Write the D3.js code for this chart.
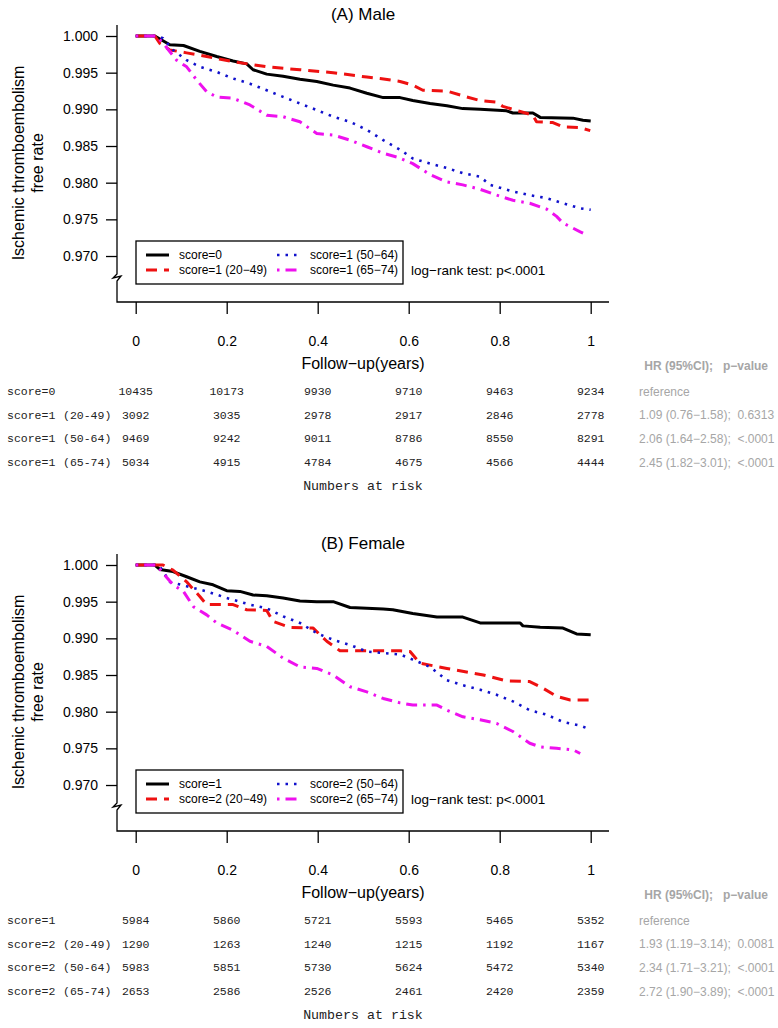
<!DOCTYPE html>
<html>
<head>
<meta charset="utf-8">
<script src="https://cdn.jsdelivr.net/npm/d3@7/dist/d3.min.js"></script>
<style>
  html, body { margin: 0; padding: 0; background: #fff; }
  svg { display: block; }
</style>
</head>
<body>
<svg id="chart" width="778" height="1028"></svg>
<script>
// ---------------- DATA ----------------
const xTicks = [0, 0.2, 0.4, 0.6, 0.8, 1];
const yTicks = [1.000, 0.995, 0.990, 0.985, 0.980, 0.975, 0.970];
const riskTimes = [0, 0.2, 0.4, 0.6, 0.8, 1];
const hrHeader = "HR (95%CI);\u00a0\u00a0\u00a0p\u2212value";

// Panel A (Male)
const maleTitle = "(A) Male";
const maleGroups = ["score=0", "score=1 (20\u221249)", "score=1 (50\u221264)", "score=1 (65\u221274)"];
const maleRiskLabels = ["score=0", "score=1 (20-49)", "score=1 (50-64)", "score=1 (65-74)"];
const maleRisk0 = [10435, 10173, 9930, 9710, 9463, 9234];
const maleRisk1 = [3092, 3035, 2978, 2917, 2846, 2778];
const maleRisk2 = [9469, 9242, 9011, 8786, 8550, 8291];
const maleRisk3 = [5034, 4915, 4784, 4675, 4566, 4444];
const maleHR = ["reference", "1.09 (0.76\u22121.58);\u00a0\u00a00.6313", "2.06 (1.64\u22122.58);\u00a0\u00a0<.0001", "2.45 (1.82\u22123.01);\u00a0\u00a0<.0001"];

const maleCurve0 = [[0,1],[0.042,1],[0.075,0.9988],[0.105,0.9987],[0.141,0.9979],[0.178,0.9972],[0.214,0.9966],[0.244,0.9962],[0.258,0.9954],[0.288,0.9948],[0.324,0.9945],[0.361,0.9941],[0.398,0.9938],[0.434,0.9933],[0.471,0.9929],[0.508,0.9922],[0.544,0.9916],[0.581,0.9916],[0.609,0.9912],[0.647,0.9908],[0.684,0.9905],[0.719,0.9901],[0.757,0.9900],[0.815,0.9898],[0.829,0.9895],[0.873,0.9895],[0.889,0.9889],[0.961,0.9888],[0.983,0.9885],[1.0,0.9884]];
const maleCurve1 = [[0,1],[0.042,1],[0.053,0.9990],[0.075,0.9981],[0.112,0.9977],[0.156,0.9972],[0.214,0.9965],[0.288,0.9958],[0.361,0.9954],[0.434,0.9950],[0.508,0.9944],[0.537,0.9942],[0.581,0.9938],[0.609,0.9933],[0.631,0.9926],[0.684,0.9925],[0.727,0.9917],[0.757,0.9912],[0.793,0.9910],[0.807,0.9904],[0.845,0.9897],[0.873,0.9892],[0.881,0.9883],[0.917,0.9882],[0.939,0.9876],[0.977,0.9875],[0.999,0.9871]];
const maleCurve2 = [[0,1],[0.046,1],[0.060,0.9997],[0.082,0.9981],[0.112,0.9967],[0.141,0.9958],[0.178,0.9951],[0.214,0.9942],[0.251,0.9935],[0.288,0.9926],[0.324,0.9917],[0.361,0.9908],[0.398,0.9899],[0.434,0.9890],[0.471,0.9883],[0.508,0.9872],[0.544,0.9858],[0.581,0.9845],[0.609,0.9833],[0.647,0.9826],[0.684,0.9820],[0.719,0.9813],[0.757,0.9808],[0.779,0.9797],[0.829,0.9788],[0.866,0.9783],[0.903,0.9779],[0.939,0.9772],[0.977,0.9765],[1.0,0.9763]];
const maleCurve3 = [[0,1],[0.046,1],[0.067,0.9985],[0.090,0.9967],[0.112,0.9958],[0.134,0.9940],[0.156,0.9924],[0.178,0.9917],[0.214,0.9915],[0.251,0.9906],[0.288,0.9892],[0.324,0.9890],[0.361,0.9883],[0.398,0.9867],[0.434,0.9865],[0.471,0.9858],[0.508,0.9849],[0.544,0.9840],[0.574,0.9835],[0.609,0.9826],[0.647,0.9811],[0.684,0.9801],[0.719,0.9797],[0.757,0.9791],[0.793,0.9783],[0.829,0.9776],[0.866,0.9772],[0.903,0.9764],[0.925,0.9754],[0.939,0.9745],[0.977,0.9733],[0.991,0.9729]];

// Panel B (Female)
const femaleTitle = "(B) Female";
const femaleGroups = ["score=1", "score=2 (20\u221249)", "score=2 (50\u221264)", "score=2 (65\u221274)"];
const femaleRiskLabels = ["score=1", "score=2 (20-49)", "score=2 (50-64)", "score=2 (65-74)"];
const femaleRisk0 = [5984, 5860, 5721, 5593, 5465, 5352];
const femaleRisk1 = [1290, 1263, 1240, 1215, 1192, 1167];
const femaleRisk2 = [5983, 5851, 5730, 5624, 5472, 5340];
const femaleRisk3 = [2653, 2586, 2526, 2461, 2420, 2359];
const femaleHR = ["reference", "1.93 (1.19\u22123.14);\u00a0\u00a00.0081", "2.34 (1.71\u22123.21);\u00a0\u00a0<.0001", "2.72 (1.90\u22123.89);\u00a0\u00a0<.0001"];

const femaleCurve0 = [[0,1],[0.042,1],[0.053,0.9994],[0.082,0.9991],[0.112,0.9984],[0.141,0.9977],[0.170,0.9973],[0.200,0.9965],[0.229,0.9964],[0.258,0.9959],[0.288,0.9958],[0.324,0.9955],[0.361,0.9951],[0.398,0.9950],[0.434,0.9950],[0.471,0.9942],[0.508,0.9941],[0.544,0.9940],[0.565,0.9939],[0.609,0.9934],[0.662,0.9929],[0.719,0.9929],[0.757,0.9921],[0.845,0.9921],[0.851,0.9917],[0.889,0.9915],[0.939,0.9914],[0.969,0.9906],[1.0,0.9905]];
const femaleCurve1 = [[0,1],[0.060,1],[0.082,0.9993],[0.112,0.9977],[0.141,0.9957],[0.156,0.9946],[0.214,0.9946],[0.244,0.9939],[0.288,0.9938],[0.302,0.9923],[0.339,0.9915],[0.390,0.9914],[0.420,0.9896],[0.449,0.9883],[0.581,0.9883],[0.603,0.9882],[0.625,0.9866],[0.684,0.9859],[0.764,0.9850],[0.815,0.9842],[0.866,0.9841],[0.895,0.9832],[0.925,0.9821],[0.955,0.9816],[1.0,0.9816]];
const femaleCurve2 = [[0,1],[0.046,1],[0.053,0.9998],[0.075,0.9977],[0.112,0.9971],[0.156,0.9964],[0.200,0.9955],[0.251,0.9946],[0.288,0.9941],[0.324,0.9930],[0.361,0.9921],[0.398,0.9907],[0.434,0.9898],[0.471,0.9891],[0.508,0.9882],[0.544,0.9880],[0.581,0.9878],[0.609,0.9871],[0.647,0.9861],[0.684,0.9843],[0.719,0.9836],[0.757,0.9830],[0.793,0.9823],[0.829,0.9814],[0.866,0.9802],[0.903,0.9796],[0.939,0.9786],[0.977,0.9781],[0.994,0.9777]];
const femaleCurve3 = [[0,1],[0.046,1],[0.060,0.9989],[0.082,0.9973],[0.105,0.9964],[0.127,0.9943],[0.156,0.9932],[0.178,0.9921],[0.214,0.9911],[0.251,0.9896],[0.288,0.9889],[0.324,0.9873],[0.361,0.9861],[0.398,0.9859],[0.434,0.9850],[0.471,0.9834],[0.508,0.9827],[0.544,0.9818],[0.581,0.9812],[0.609,0.9809],[0.662,0.9809],[0.684,0.9802],[0.719,0.9793],[0.757,0.9789],[0.793,0.9784],[0.829,0.9773],[0.866,0.9757],[0.889,0.9752],[0.925,0.9750],[0.961,0.9748],[0.977,0.9743]];

const seriesColors = ["#000000", "#ee1111", "#1111cc", "#ee11ee"];
const seriesDash = [null, "11,7", "2.5,6", "2.5,6,11,6"];
const seriesWidth = [3, 3, 2.6, 3];

// ---------------- DRAW ----------------
const svg = d3.select("#chart");
const SANS = "'Liberation Sans', Arial, sans-serif";
const MONO = "'Liberation Mono', 'Courier New', monospace";

const x = d3.scaleLinear().domain([0, 1]).range([135.7, 590.7]);
const y = d3.scaleLinear().domain([0.96373, 1]).range([302, 36]);

function drawPanel(offY, title, groups, curves, riskLabels, risks, hr) {
  const g = svg.append("g").attr("transform", `translate(0,${offY})`);

  g.append("text").attr("x", 363).attr("y", 20).attr("text-anchor", "middle")
    .style("font-family", SANS).style("font-size", "17px").text(title);

  // y axis label
  const yl = g.append("text").attr("transform", "translate(0,163) rotate(-90)")
    .attr("text-anchor", "middle").style("font-family", SANS).style("font-size", "16px");
  yl.append("tspan").attr("x", 0).attr("y", 24).text("Ischemic thromboembolism");
  yl.append("tspan").attr("x", 0).attr("y", 43).text("free rate");

  // axes
  const ya = g.append("g").attr("transform", "translate(117,0)")
    .call(d3.axisLeft(y).tickValues(yTicks).tickFormat(d3.format(".3f")).tickSize(11).tickPadding(8));
  ya.select(".domain").remove();
  ya.selectAll("line").attr("stroke", "#000").attr("stroke-width", 1.3);
  ya.selectAll("text").style("font-family", SANS).style("font-size", "14px").attr("fill", "#000");

  const xa = g.append("g").attr("transform", "translate(0,302)")
    .call(d3.axisBottom(x).tickValues(xTicks).tickFormat(d => String(+d.toFixed(1))).tickSize(12).tickPadding(22));
  xa.select(".domain").remove();
  xa.selectAll("line").attr("stroke", "#000").attr("stroke-width", 1.3);
  xa.selectAll("text").style("font-family", SANS).style("font-size", "14px").attr("fill", "#000");

  // L-shaped frame with axis break
  g.append("path")
    .attr("d", "M117,25 L117,274 L113,278 L121,276 L117,281 L117,302 L609,302")
    .attr("fill", "none").attr("stroke", "#000").attr("stroke-width", 1.3);

  g.append("text").attr("x", 363).attr("y", 369).attr("text-anchor", "middle")
    .style("font-family", SANS).style("font-size", "16px").text("Follow\u2212up(years)");

  // curves
  const line = d3.line().x(d => x(d[0])).y(d => y(d[1]));
  curves.forEach((c, i) => {
    g.append("path").datum(c).attr("d", line)
      .attr("fill", "none").attr("stroke", seriesColors[i])
      .attr("stroke-width", seriesWidth[i])
      .attr("stroke-dasharray", seriesDash[i])
      .attr("stroke-linejoin", "round");
  });

  // legend
  g.append("rect").attr("x", 136).attr("y", 241).attr("width", 267).attr("height", 43)
    .attr("fill", "#fff").attr("stroke", "#000").attr("stroke-width", 1.3);
  const legPos = [[146, 255], [146, 270], [277, 255], [277, 270]];
  groups.forEach((name, i) => {
    const [lx, ly] = legPos[i];
    g.append("line").attr("x1", lx).attr("x2", lx + 23).attr("y1", ly).attr("y2", ly)
      .attr("stroke", seriesColors[i]).attr("stroke-width", seriesWidth[i])
      .attr("stroke-dasharray", seriesDash[i]);
    g.append("text").attr("x", lx + 33).attr("y", ly + 4)
      .style("font-family", SANS).style("font-size", "12px").text(name);
  });
  g.append("text").attr("x", 411).attr("y", 275)
    .style("font-family", SANS).style("font-size", "13.5px").text("log\u2212rank test: p<.0001");

  // risk table
  const rowY = [395, 418.5, 442, 466];
  g.append("text").attr("x", 768).attr("y", 370).attr("text-anchor", "end")
    .style("font-family", SANS).style("font-size", "12px").style("font-weight", "bold")
    .attr("fill", "#a6a6a6").text(hrHeader);
  riskLabels.forEach((lab, i) => {
    const parts = lab.split(" ");
    g.append("text").attr("x", 7).attr("y", rowY[i])
      .style("font-family", MONO).style("font-size", "11.5px").attr("fill", "#222")
      .text(parts[0]);
    if (parts[1]) {
      g.append("text").attr("x", 63).attr("y", rowY[i])
        .style("font-family", MONO).style("font-size", "11.5px").attr("fill", "#222")
        .text(parts[1]);
    }
    risks[i].forEach((v, j) => {
      g.append("text").attr("x", x(riskTimes[j])).attr("y", rowY[i]).attr("text-anchor", "middle")
        .style("font-family", MONO).style("font-size", "11.5px").attr("fill", "#222").text(v);
    });
    g.append("text").attr("x", 639).attr("y", rowY[i] + 0.5)
      .style("font-family", SANS).style("font-size", "12px").attr("fill", "#a6a6a6")
      .text(hr[i]);
  });
  g.append("text").attr("x", 363).attr("y", 490).attr("text-anchor", "middle")
    .style("font-family", MONO).style("font-size", "13.3px").attr("fill", "#222")
    .text("Numbers at risk");
}

drawPanel(0, maleTitle, maleGroups, [maleCurve0, maleCurve1, maleCurve2, maleCurve3],
  maleRiskLabels, [maleRisk0, maleRisk1, maleRisk2, maleRisk3], maleHR);
drawPanel(529, femaleTitle, femaleGroups, [femaleCurve0, femaleCurve1, femaleCurve2, femaleCurve3],
  femaleRiskLabels, [femaleRisk0, femaleRisk1, femaleRisk2, femaleRisk3], femaleHR);
</script>
</body>
</html>
